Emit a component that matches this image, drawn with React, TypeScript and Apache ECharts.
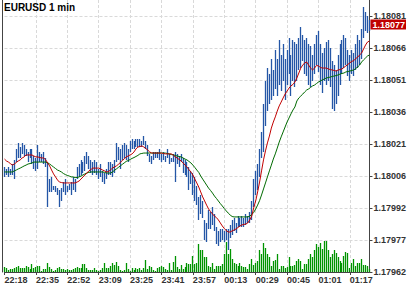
import React, { useEffect, useRef } from 'react';
import * as echarts from 'echarts';

// prices are stored in units of 0.00001 (1.18011 -> 118011)
const BASE = 117962; // bottom of the price scale: 1.17962
const TICK_STEP = 14.875; // distance between price grid lines, in 0.00001 units
const TITLE = 'EURUSD 1 min';
const Y_LABELS = ['1.17962', '1.17977', '1.17992', '1.18006', '1.18021', '1.18036', '1.18051', '1.18066', '1.18081'];
const X_LABELS = ['22:18', '22:35', '22:52', '23:09', '23:25', '23:41', '23:57', '00:13', '00:29', '00:45', '01:01', '01:17'];
const LAST_CLOSE = 118077;
const LAST_CLOSE_LABEL = '1.18077';

const HIGH = [
  118011, 118010, 118011, 118010, 118012, 118014,
  118019, 118022, 118020, 118022, 118021, 118019, 118018, 118019,
  118019, 118016, 118015, 118021, 118018, 118017, 118018, 118015,
  118013, 118005, 118006, 118002, 118002, 118001, 118000, 118001,
  118004, 118005, 118002, 118003, 118004, 118006, 118005,
  118011, 118012, 118014, 118013, 118016, 118018, 118016, 118014, 118013, 118014, 118013,
  118010, 118012, 118009, 118008, 118010, 118013, 118013, 118012, 118014,
  118022, 118020, 118019, 118021, 118022, 118021, 118019, 118023, 118024, 118023, 118024,
  118024, 118024, 118023, 118025, 118023, 118021,
  118017, 118016, 118018, 118018, 118018, 118019, 118017, 118018, 118016, 118019, 118017, 118015, 118017,
  118018, 118017, 118016, 118017, 118015, 118014, 118013, 118011, 118009, 118008, 118006,
  118002, 117997, 117998, 117995,
  117986, 117985, 117991, 117990, 117992, 117989, 117983, 117981, 117982, 117982, 117981, 117982, 117982, 117984,
  117986, 117987, 117985, 117988, 117987, 117988, 117987, 117989, 117988, 117990, 117995, 118005, 118009, 118012,
  118019, 118027, 118040,
  118051, 118057, 118054, 118061, 118056, 118065, 118061, 118070, 118063, 118068, 118061, 118065, 118071, 118063,
  118070, 118069, 118068, 118071, 118076, 118072, 118070, 118071, 118068, 118067, 118063, 118068, 118072, 118074,
  118068, 118064, 118066, 118069, 118070, 118066, 118060, 118058, 118056, 118063, 118068, 118070, 118072, 118071,
  118065, 118063, 118065, 118064, 118068, 118072, 118070, 118075, 118085, 118083, 118081, 118079,
];

const LOW = [
  118006, 118007, 118006, 118007, 118007, 118005,
  118013, 118015, 118015, 118017, 118016, 118016, 118013, 118015,
  118012, 118010, 118009, 118010, 118013, 118013, 118012, 118011,
  117992, 117999, 117999, 118000, 117999, 117998, 117992, 117995,
  117999, 117998, 117999, 118000, 117998, 118000, 117999,
  118005, 118006, 118007, 118008, 118009, 118012, 118010, 118008, 118007, 118008, 118007,
  118005, 118006, 118004, 118003, 118005, 118007, 118007, 118006, 118008,
  118013, 118014, 118010, 118014, 118015, 118014, 118013, 118018, 118019, 118019, 118020,
  118020, 118020, 118020, 118021, 118019, 118016,
  118013, 118012, 118014, 118015, 118015, 118014, 118013, 118014, 118013, 118015, 118012, 118013, 118013,
  118004, 118012, 118011, 118013, 118008, 118007, 118006, 118000, 118003, 117998, 117995,
  117993, 117986, 117989, 117987,
  117977, 117976, 117982, 117982, 117984, 117981, 117975, 117974, 117976, 117977, 117976, 117977, 117972, 117978,
  117979, 117981, 117980, 117983, 117983, 117983, 117983, 117984, 117985, 117985, 117986, 117992, 117998, 118000,
  118006, 118015, 118018,
  118030, 118037, 118040, 118042, 118044, 118047, 118044, 118049, 118046, 118051, 118042, 118049, 118054, 118044,
  118051, 118048, 118051, 118056, 118057, 118060, 118054, 118053, 118049, 118048, 118051, 118054, 118058, 118055,
  118049, 118045, 118051, 118049, 118051, 118048, 118038, 118037, 118040, 118044, 118049, 118054, 118057, 118058,
  118053, 118051, 118054, 118053, 118056, 118057, 118058, 118061, 118071, 118074, 118073, 118074,
];

const MA_FAST = [
  118014.5, 118013.6, 118013.1, 118012.4, 118011.7, 118012.2, 118012.9, 118013.6, 118014.1, 118015.0, 118015.5,
  118016.4, 118016.4, 118016.4, 118016.4, 118015.9, 118015.5, 118015.5, 118015.2, 118015.0, 118015.0, 118014.1,
  118012.7, 118011.3, 118009.4, 118007.6, 118006.2, 118004.8, 118003.8, 118003.6,
  118003.4, 118003.4, 118003.4, 118003.4, 118003.4, 118003.4, 118003.4,
  118003.8, 118004.3, 118005.2, 118006.2, 118007.1, 118008.0, 118009.0, 118009.6, 118010.3, 118010.3, 118010.3, 118010.3,
  118009.9, 118009.4, 118009.0, 118008.5, 118008.7, 118009.4, 118010.3, 118010.8, 118011.3, 118012.0, 118012.9,
  118013.8, 118014.5, 118015.5, 118015.9, 118016.4, 118016.9, 118017.8, 118019.2, 118020.1, 118020.3, 118020.6,
  118020.1, 118019.4, 118018.7, 118017.8,
  118017.3, 118017.3, 118017.3, 118017.3, 118017.3, 118017.3,
  118017.1, 118016.9, 118016.9, 118016.9, 118016.9, 118016.4,
  118015.5, 118015.0, 118014.3, 118013.6, 118012.7, 118011.7, 118010.8, 118009.6, 118008.5, 118007.1, 118005.2, 118003.4,
  118001.5, 117999.2, 117996.9, 117995.0, 117993.1, 117991.3, 117990.1, 117989.0, 117988.0, 117987.3, 117986.2,
  117984.8, 117983.4, 117982.2, 117981.3, 117980.6, 117980.6,
  117981.1, 117981.5, 117982.0, 117982.7, 117983.4, 117983.9, 117984.1, 117984.3, 117984.8, 117986.2, 117988.0,
  117991.8, 117995.0, 117999.2, 118003.8, 118009.0, 118014.1,
  118018.3, 118022.0, 118025.2, 118028.9, 118031.7, 118034.1, 118036.8, 118039.2, 118041.0, 118042.9, 118044.7,
  118046.1, 118047.5, 118048.5, 118049.2, 118050.3, 118052.2, 118054.5, 118056.8, 118058.2, 118059.2, 118059.6,
  118058.2, 118056.8, 118055.9, 118056.8, 118058.0, 118057.8, 118057.1, 118056.8, 118056.8, 118056.8, 118056.4,
  118056.1, 118055.9, 118055.7, 118055.4, 118055.9, 118056.1, 118056.4,
  118057.1, 118057.8, 118058.5, 118059.2, 118059.9, 118060.3, 118061.2, 118061.9, 118062.9, 118063.8, 118065.7,
  118067.5, 118068.9, 118069.4,
];

const MA_SLOW = [
  118008.5, 118008.5, 118008.5, 118008.5, 118008.5,
  118009.0, 118009.4, 118009.9, 118010.3, 118010.8, 118011.3, 118011.7, 118012.2, 118012.4, 118012.7,
  118013.1, 118013.1, 118013.1, 118013.1, 118013.1, 118013.1, 118013.1,
  118012.7, 118012.2, 118011.5, 118010.8, 118010.1, 118009.4, 118009.0, 118008.5,
  118007.8, 118007.3, 118006.9, 118006.6, 118006.2, 118006.2, 118005.9, 118005.9, 118006.2, 118006.6, 118007.1,
  118007.6, 118008.0, 118008.3,
  118008.5, 118008.5, 118008.5, 118008.5, 118008.5, 118008.5, 118008.5,
  118008.3, 118008.0, 118008.0, 118008.0, 118008.5,
  118009.2, 118009.9, 118010.6, 118011.3, 118012.0, 118012.7, 118013.4, 118013.8, 118014.3, 118014.8, 118015.2,
  118015.7, 118016.2, 118016.9, 118017.1,
  118017.3, 118017.3, 118017.3, 118017.3, 118017.3, 118017.3, 118017.3, 118017.3, 118017.3, 118017.3, 118017.3, 118017.3,
  118017.1, 118016.9, 118016.6, 118016.4, 118016.2, 118015.9, 118015.7, 118015.5, 118015.0, 118014.5, 118014.1,
  118013.4, 118012.7, 118011.7, 118010.6, 118009.4, 118008.3, 118006.6, 118005.2, 118003.8, 118002.4,
  118001.0, 117999.9, 117998.7, 117997.3, 117996.2, 117995.0, 117993.8, 117992.7, 117991.5, 117990.4, 117989.4,
  117988.5, 117987.8,
  117987.6, 117987.6, 117987.6, 117987.6, 117987.6, 117987.6, 117987.6, 117987.6,
  117988.0, 117988.7, 117989.7, 117991.3, 117993.1, 117995.2, 117997.8, 118000.6, 118003.4, 118006.2, 118009.0,
  118011.7, 118014.5, 118016.9, 118019.6, 118022.4, 118024.8, 118027.1, 118029.4, 118031.7, 118033.6, 118035.5,
  118037.3, 118038.7,
  118041.5, 118042.9, 118043.8, 118044.7, 118045.7, 118046.6, 118047.1, 118047.8, 118048.5, 118048.9, 118049.6,
  118050.3, 118050.8, 118051.3, 118051.7, 118052.2, 118052.4, 118052.6, 118052.9, 118053.1, 118053.3, 118053.6,
  118054.0, 118054.3, 118054.5, 118055.0, 118055.2, 118055.4, 118055.7, 118055.9, 118056.6, 118057.3, 118058.2,
  118059.6, 118060.6, 118061.5, 118062.4, 118062.9,
];

const VOLUME = [
  15, 11, 7, 10, 8, 11, 14, 18, 12, 12, 12, 18, 16, 8, 24, 12, 16, 18, 18, 4, 8, 8, 27, 16, 10, 4, 6, 12, 16, 8, 8, 6, 10, 5, 7, 10,
  12, 16, 12, 12, 24, 24, 12, 6, 6, 6, 12, 6, 4, 6, 12, 28, 12, 12, 18, 26, 22, 30, 18, 6, 4, 6, 28, 8, 4, 12, 6, 12, 8, 12, 6, 12,
  36, 8, 18, 16, 6, 4, 12, 14, 18, 16, 8, 6, 26, 6, 30, 48, 16, 10, 22, 8, 16, 26, 24, 24, 48, 24, 28, 84, 66, 66, 45, 45, 18, 14, 26, 8,
  18, 18, 18, 24, 54, 90, 54, 69, 38, 28, 24, 18, 26, 18, 14, 16, 10, 24, 38, 20, 26, 34, 66, 54, 87, 72, 54, 45, 18, 34, 36, 54, 8, 18, 18, 12,
  14, 44, 18, 18, 20, 34, 38, 34, 8, 24, 24, 38, 54, 46, 66, 84, 74, 88, 68, 92, 94, 66, 44, 54, 66, 58, 44, 32, 26, 48, 60, 58, 12, 26, 40,
  18, 26, 26, 40, 22, 20, 18, 10,
];

const FONT = "'Liberation Sans Narrow', 'Liberation Sans', Arial, sans-serif";
const AXIS_COLOR = '#444444';
const GRID_COLOR = '#d9d9d9';
const BLUE = '#2456a6';
const RED = '#c00000';
const DARK_GREEN = '#006a00';
const VOL_GREEN = '#009400';
const LABEL_EVERY = 16;

export default function App() {
  const ref = useRef<HTMLDivElement>(null);

  useEffect(() => {
    if (!ref.current) return;
    const chart = echarts.init(ref.current, null, { renderer: 'svg' });
    const cats = HIGH.map((_, i) => String(i));
    const bars = HIGH.map((h, i) => [i, LOW[i] - BASE, h - BASE]);
    const vols = VOLUME.map((v, i) => [i, v]);
    const plotHeight = 272;
    const priceMax = (plotHeight / 32) * TICK_STEP;

    const vLine = (color: string, width: number) => (x: number, y1: number, y2: number) => ({
      type: 'line',
      shape: { x1: x, y1, x2: x, y2 },
      style: { stroke: color, lineWidth: width },
    });
    const blueLine = vLine(BLUE, 1.3);
    const greenLine = vLine(VOL_GREEN, 1.3);

    chart.setOption({
      animation: false,
      backgroundColor: '#ffffff',
      title: {
        text: TITLE,
        left: 4,
        top: 2,
        padding: 0,
        textStyle: { fontSize: 10, fontWeight: 'bold', color: '#000', fontFamily: FONT },
      },
      grid: { left: 4.5, right: 32, top: 0, bottom: 286 - plotHeight, containLabel: false },
      xAxis: {
        type: 'category',
        data: cats,
        boundaryGap: false,
        axisLine: { show: true, lineStyle: { color: AXIS_COLOR, width: 1 } },
        axisTick: {
          show: true,
          length: 3,
          interval: (i: number) => i % LABEL_EVERY === 0,
          lineStyle: { color: AXIS_COLOR },
        },
        axisLabel: {
          interval: (i: number) => i % LABEL_EVERY === 0,
          formatter: (v: string) => X_LABELS[Number(v) / LABEL_EVERY] ?? '',
          align: 'left',
          margin: 3,
          fontSize: 9,
          fontWeight: 'bold',
          color: '#333',
          fontFamily: FONT,
        },
        splitLine: {
          show: true,
          interval: (i: number) => i > 0 && i % LABEL_EVERY === 0,
          lineStyle: { color: GRID_COLOR, type: [3, 2], width: 1 },
        },
      },
      yAxis: [
        {
          type: 'value',
          position: 'right',
          min: 0,
          max: priceMax,
          interval: TICK_STEP,
          axisLine: { show: true, lineStyle: { color: AXIS_COLOR, width: 1 } },
          axisTick: { show: true, length: 3, lineStyle: { color: AXIS_COLOR } },
          axisLabel: {
            margin: 4,
            fontSize: 9,
            fontWeight: 'bold',
            color: '#333',
            fontFamily: FONT,
            showMaxLabel: false,
            formatter: (v: number) => {
              const k = Math.round(v / TICK_STEP);
              return Math.abs(v - k * TICK_STEP) < 0.01 ? Y_LABELS[k] ?? '' : '';
            },
          },
          splitLine: {
            show: true,
            showMinLine: false,
            showMaxLine: false,
            lineStyle: { color: GRID_COLOR, type: [3, 2], width: 1 },
          },
        },
        {
          type: 'value',
          position: 'left',
          offset: 2.5,
          min: 0,
          max: 816,
          axisLine: { show: true, lineStyle: { color: AXIS_COLOR, width: 1 } },
          axisTick: { show: false },
          axisLabel: { show: false },
          splitLine: { show: false },
        },
      ],
      series: [
        {
          type: 'custom',
          yAxisIndex: 1,
          data: vols,
          encode: { x: 0, y: 1 },
          silent: true,
          z: 1,
          renderItem: (_params: any, api: any) => {
            const top = api.coord([api.value(0), api.value(1)]);
            const bottom = api.coord([api.value(0), 0]);
            return greenLine(Math.floor(top[0]) + 0.5, Math.round(bottom[1]), Math.round(top[1]));
          },
        },
        {
          type: 'custom',
          data: bars,
          encode: { x: 0, y: [1, 2] },
          silent: true,
          z: 2,
          renderItem: (_params: any, api: any) => {
            const lo = api.coord([api.value(0), api.value(1)]);
            const hi = api.coord([api.value(0), api.value(2)]);
            return blueLine(Math.floor(lo[0]) + 0.5, Math.round(lo[1]), Math.round(hi[1]));
          },
        },
        {
          type: 'line',
          data: MA_SLOW.map((v) => v - BASE),
          symbol: 'none',
          showSymbol: false,
          silent: true,
          lineStyle: { color: DARK_GREEN, width: 1 },
          z: 3,
        },
        {
          type: 'line',
          data: MA_FAST.map((v) => v - BASE),
          symbol: 'none',
          showSymbol: false,
          silent: true,
          lineStyle: { color: RED, width: 1 },
          z: 4,
          markLine: {
            silent: true,
            symbol: ['none', 'none'],
            lineStyle: { color: 'rgba(0,0,0,0)', width: 1, type: 'solid' },
            label: {
              show: true,
              position: 'end',
              distance: 1,
              formatter: LAST_CLOSE_LABEL,
              color: '#ffffff',
              backgroundColor: RED,
              padding: [1, 1, 0, 2],
              fontSize: 9,
              fontWeight: 'bold',
              fontFamily: FONT,
            },
            data: [{ yAxis: LAST_CLOSE - BASE }],
          },
        },
      ],
    });

    return () => chart.dispose();
  }, []);

  return <div ref={ref} style={{ position: 'fixed', left: 0, top: 0, width: 409, height: 286 }} />;
}
